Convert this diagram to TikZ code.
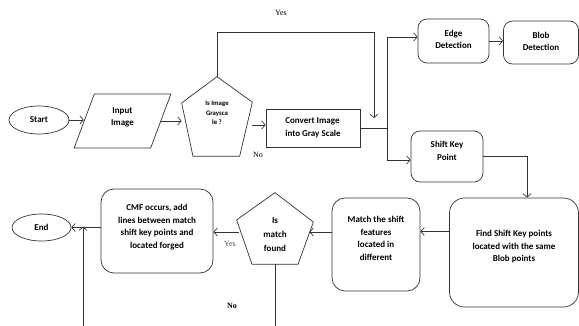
\documentclass[tikz,border=0pt]{standalone}
\usepackage{fontspec}
\setmainfont{Carlito}
\newfontfamily\labfont{Liberation Serif}
\usetikzlibrary{shapes.geometric,arrows.meta,calc}
\begin{document}
\begin{tikzpicture}[x=1pt,y=-1pt,
  line width=0.7pt,
  ln/.style={draw=black!80},
  arr/.style={ln,-{Straight Barb[length=3.5pt,width=8pt,line width=0.7pt]}},
  box/.style={draw=black!80,font=\bfseries\fontsize{9}{12.5}\selectfont,align=center,inner sep=0pt},
  rbox/.style={box,rounded corners=9pt},
  ptxt/.style={font=\bfseries\fontsize{9}{12.5}\selectfont,align=center,inner sep=0pt},
  lab/.style={font=\labfont\fontsize{8}{9}\selectfont,inner sep=0pt}]
\useasboundingbox (0,0) rectangle (579,326);

\node[box,ellipse,minimum width=60pt,minimum height=28pt] (start) at (39,120) {Start};
\node[box,trapezium,trapezium left angle=73,trapezium right angle=107,trapezium stretches=true,minimum width=97pt,minimum height=54pt] (input) at (122.5,121) {Input\\Image\\[-4pt]};
\node[box,draw=none,minimum width=70pt,minimum height=79pt] (gray) at (217,116.5) {};
\draw[ln] ($(gray.north west)!0.5!(gray.north east)$) -- ($(gray.north east)!0.32!(gray.south east)$) -- ($(gray.south east)!0.18!(gray.south west)$) -- ($(gray.south west)!0.16!(gray.south east)$) -- ($(gray.north west)!0.33!(gray.south west)$) -- cycle;
\node[ptxt,font=\bfseries\fontsize{6.8}{9.5}\selectfont] (graytext) at (217,113) {Is Image\\Graysca\\le ?};
\node[box,minimum width=94pt,minimum height=38pt,align=left] (convert) at (313,128) {Convert Image\\into Gray Scale};
\node[rbox,minimum width=71pt,minimum height=44pt] (edge) at (453.5,41) {Edge\\Detection\\[-9pt]};
\node[rbox,minimum width=75pt,minimum height=43pt] (blob) at (541,42.5) {Blob\\Detection\\[-10pt]};
\node[rbox,minimum width=72pt,minimum height=51pt] (shift) at (447,156.5) {Shift Key\\Point\\[-1.5pt]};
\node[rbox,rounded corners=15pt,minimum width=129pt,minimum height=109pt] (find) at (514,252.5) {Find Shift Key points\\located with the same\\Blob points\\[0pt]};
\node[rbox,rounded corners=13pt,minimum width=88pt,minimum height=93pt] (match) at (376,244.5) {Match the shift\\features\\located in\\different\\[0pt]};
\node[box,draw=none,minimum width=76pt,minimum height=71pt] (found) at (275,228.5) {};
\draw[ln] ($(found.north west)!0.5!(found.north east)$) -- ($(found.north east)!0.41!(found.south east)$) -- ($(found.south east)!0.2!(found.south west)$) -- ($(found.south west)!0.2!(found.south east)$) -- ($(found.north west)!0.38!(found.south west)$) -- cycle;
\node[ptxt,font=\bfseries\fontsize{9}{14}\selectfont] (foundtext) at (275,235) {Is\\match\\found};
\node[rbox,rounded corners=13pt,minimum width=112pt,minimum height=84pt] (cmf) at (157,231) {CMF occurs, add\\lines between match\\shift key points and\\located forged\\[-3.5pt]};
\node[box,ellipse,minimum width=59pt,minimum height=27pt] (end) at (41.5,227.5) {End};

\node[lab] (yes1) at (281,13) {Yes};
\node[lab] (no1) at (258,155) {No};
\node[lab,text=black!70] (yes2) at (230,244) {Yes};
\node[lab,font=\labfont\bfseries\fontsize{8}{9}\selectfont] (no2) at (232,306) {No};

\coordinate (yesx) at (374,32);
\coordinate (yesend) at (374,118);
\coordinate (split) at (387,128);
\coordinate (fE) at ([xshift=-4pt,yshift=-3.5pt]found.east);
\coordinate (fW) at ([xshift=2pt,yshift=-3.5pt]found.west);
\coordinate (mW) at ([yshift=12.5pt]match.west);
\coordinate (fiW) at ([yshift=21pt]find.west);
\coordinate (b1) at (83,326);
\coordinate (fiN) at ([xshift=13pt]find.north);

\draw[arr] (start.east) -- (start.east -| input.west);
\draw[arr] (input.east) -- (input.east -| gray.west);
\draw[arr] ([yshift=3pt]convert.west -| gray.east) -- ([yshift=3pt]convert.west);
\draw[arr] (gray.north) |- (yesx) -- (yesend);
\draw[ln] (convert.east) -- (split);
\draw[arr] (split) |- ([yshift=4pt]edge.west);
\draw[arr] (split) |- ([yshift=-3.5pt]shift.west);
\draw[arr] (edge.east) -- (edge.east -| blob.west);
\draw[arr] (shift.east) -| (fiN);
\draw[arr] (fiW) -- (fiW -| match.east);
\draw[arr] (mW) -- (mW -| fE);
\draw[arr] (fW) -- (fW -| cmf.east);
\draw[arr] (cmf.west |- end.east) -- (end.east);
\draw[arr] (b1) -- ([yshift=1pt]b1 |- end.east);
\draw[ln] (found.south) -- (found.south |- b1);
\end{tikzpicture}
\end{document}
